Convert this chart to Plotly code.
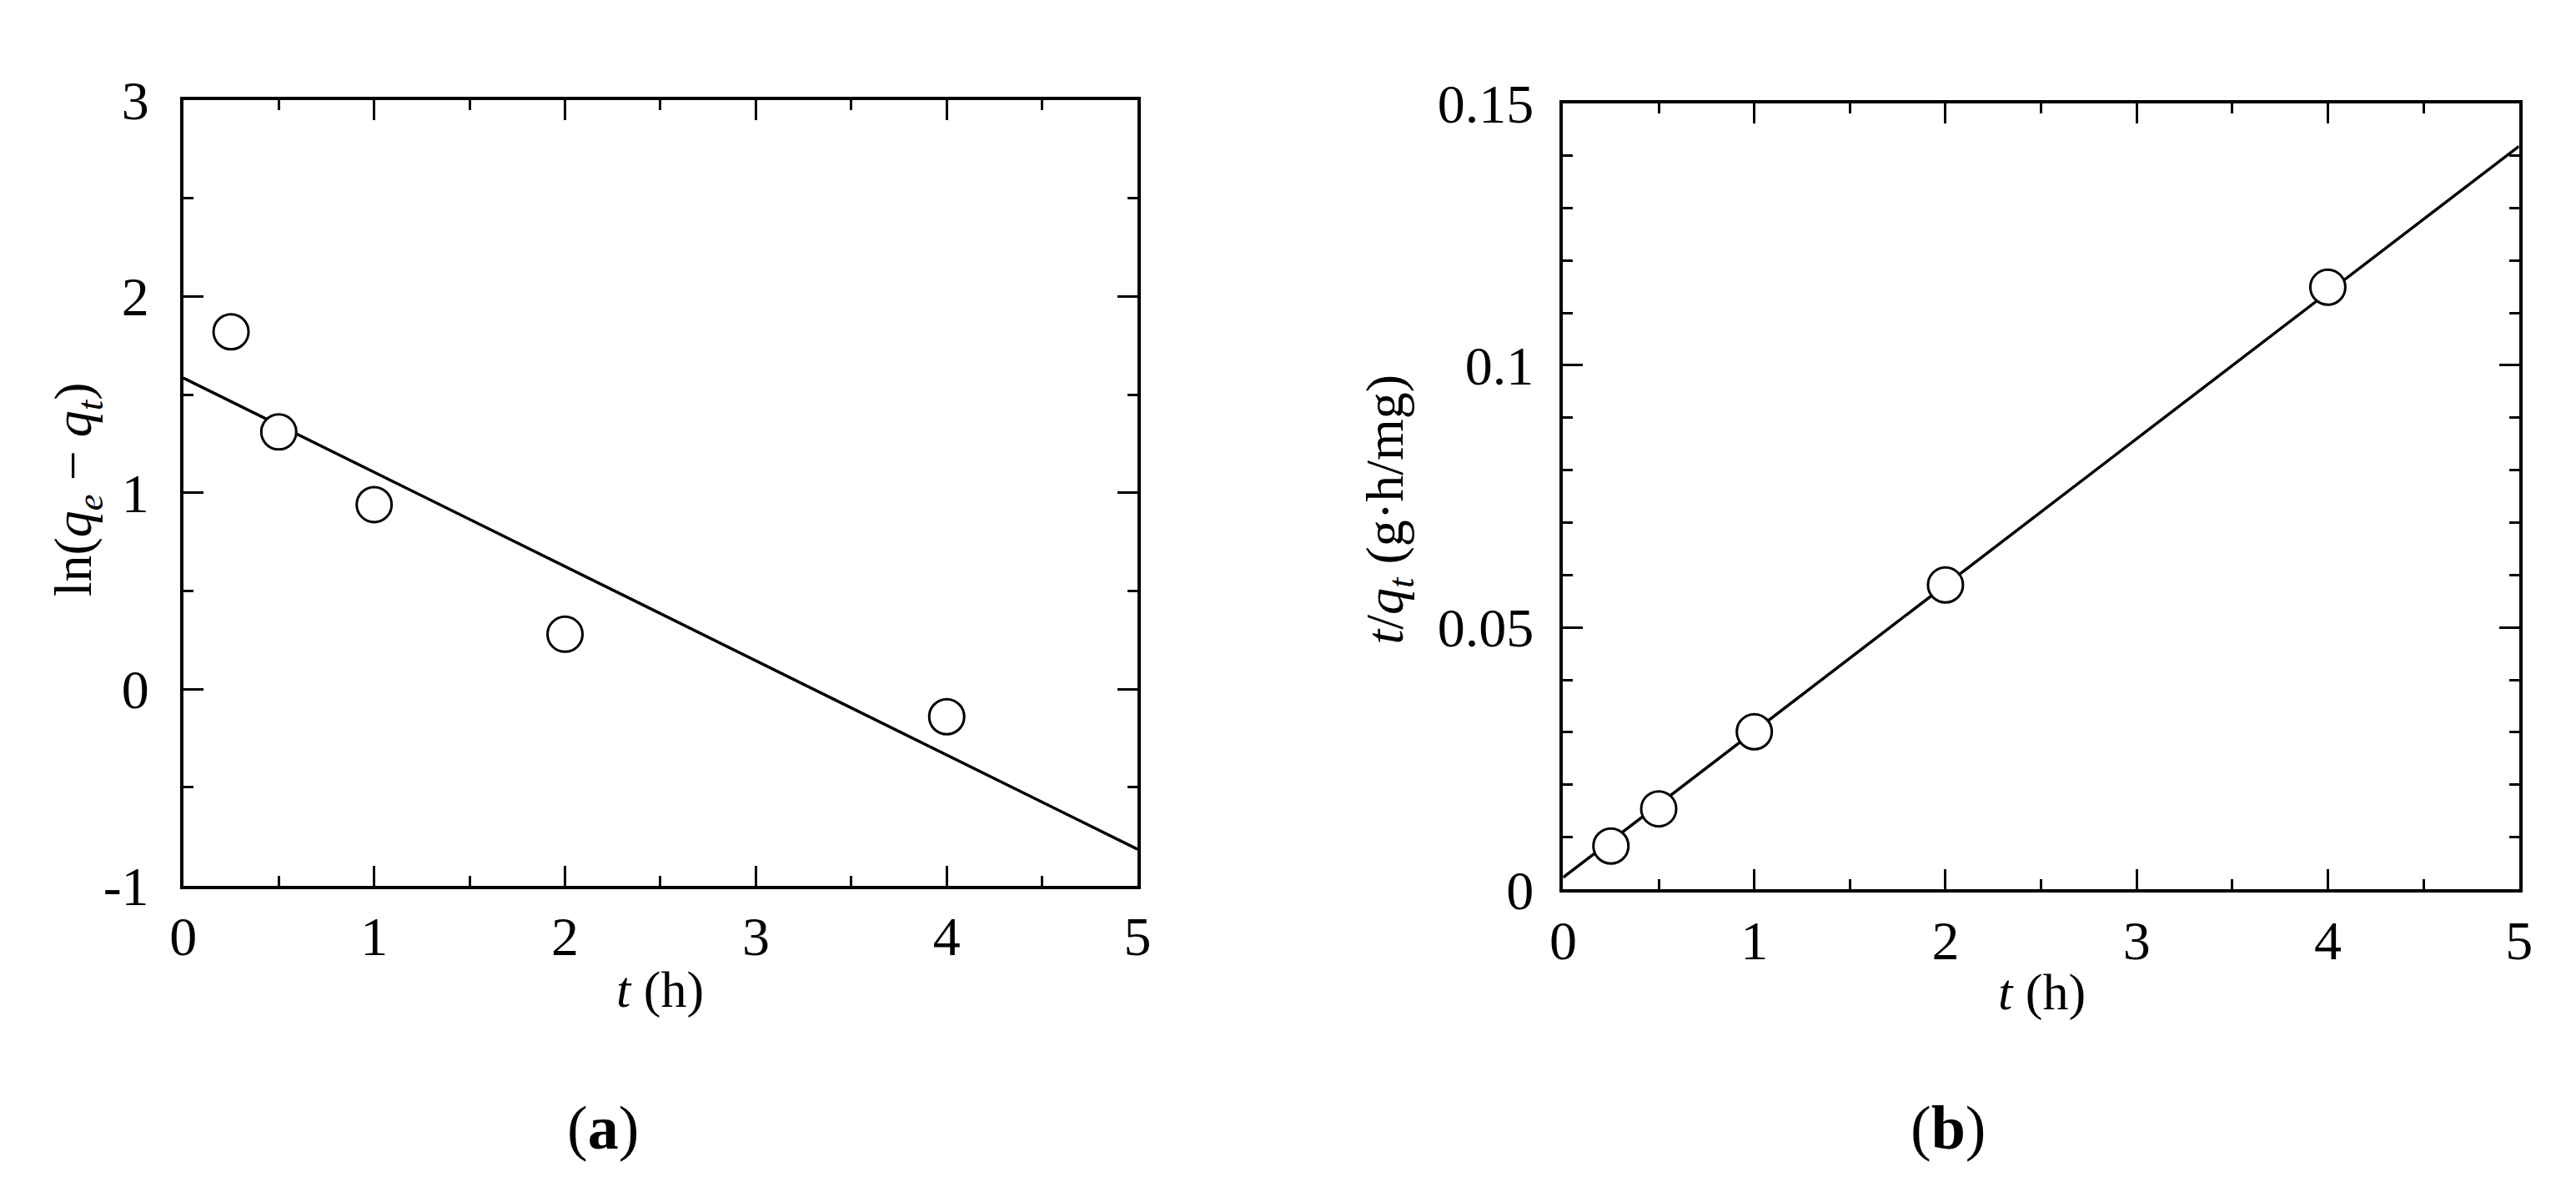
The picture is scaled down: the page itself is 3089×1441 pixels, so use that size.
import plotly.graph_objects as go

# ---- data ----
t_points = [0.25, 0.5, 1, 2, 4]
ln_qe_qt = [1.82, 1.31, 0.94, 0.28, -0.14]
fit_a_x = [0, 5]
fit_a_y = [1.585, -0.815]

t_over_qt = [0.0083, 0.0154, 0.0301, 0.0581, 0.1149]
fit_b_x = [0, 5]
fit_b_y = [0.0023, 0.1418]

xa_ticks = [0, 1, 2, 3, 4, 5]
ya_ticks = [-1, 0, 1, 2, 3]
ya_ticktext = ["-1", "0", "1", "2", "3"]
yb_ticks = [0, 0.05, 0.1, 0.15]
yb_ticktext = ["0", "0.05", "0.1", "0.15"]

W, H = 3089, 1441
FONT = "Liberation Serif"
TICKF = dict(family=FONT, size=66, color="black")

fig = go.Figure()

marker = dict(symbol="circle", size=42, color="white", line=dict(color="black", width=3))
line = dict(color="black", width=3.5)

fig.add_trace(go.Scatter(x=fit_a_x, y=fit_a_y, mode="lines", line=line, xaxis="x", yaxis="y",
                         showlegend=False))
fig.add_trace(go.Scatter(x=t_points, y=ln_qe_qt, mode="markers", marker=marker, xaxis="x", yaxis="y",
                         showlegend=False, cliponaxis=False))
fig.add_trace(go.Scatter(x=fit_b_x, y=fit_b_y, mode="lines", line=line, xaxis="x2", yaxis="y2",
                         showlegend=False))
fig.add_trace(go.Scatter(x=t_points, y=t_over_qt, mode="markers", marker=marker, xaxis="x2", yaxis="y2",
                         showlegend=False, cliponaxis=False))

def ax(**kw):
    base = dict(showline=True, linecolor="black", linewidth=4, mirror="ticks",
                ticks="inside", ticklen=24, tickwidth=3, tickcolor="black",
                showgrid=False, zeroline=False, tickfont=TICKF, fixedrange=True)
    base.update(kw)
    return base

def minor(d):
    return dict(ticks="inside", ticklen=12, tickwidth=3, tickcolor="black", dtick=d)

xl0, xl1 = 197 / W, 1354 / W
xr0, xr1 = 1870 / W, 3029 / W
ya0, ya1 = 1 - 1072 / H, 1 - 80 / H
yb0, yb1 = 1 - 1077 / H, 1 - 84 / H

fig.update_layout(
    width=W, height=H, margin=dict(l=0, r=0, t=0, b=0),
    paper_bgcolor="white", plot_bgcolor="white",
    xaxis=ax(domain=[xl0, xl1], range=[0, 5], tickvals=xa_ticks, anchor="y",
             minor=minor(0.5), ticklabelstandoff=0),
    yaxis=ax(domain=[ya0, ya1], range=[-1, 3], tickvals=ya_ticks, ticktext=ya_ticktext, anchor="x",
             minor=minor(0.5), ticklabelstandoff=24),
    xaxis2=ax(domain=[xr0, xr1], range=[0, 5], tickvals=xa_ticks, anchor="y2",
              minor=minor(0.5), ticklabelstandoff=0),
    yaxis2=ax(domain=[yb0, yb1], range=[0, 0.15], tickvals=yb_ticks, ticktext=yb_ticktext, anchor="x2",
              minor=minor(0.01), ticklabelstandoff=18),
)

TF = dict(family=FONT, size=62, color="black")
TFY = dict(family=FONT, size=64, color="black")
ann = [
    dict(text="<i>t</i> (h)", x=775 / W, y=1 - 1203 / H, font=TF),
    dict(text="<i>t</i> (h)", x=2450 / W, y=1 - 1207 / H, font=TF),
    dict(text="ln(<i>q</i><sub><i>e</i></sub> − <i>q</i><sub><i>t</i></sub>)", x=68 / W, y=1 - 572 / H,
         textangle=-90, font=TFY),
    dict(text="<i>t</i>/<i>q</i><sub><i>t</i></sub> (g·h/mg)", x=1658 / W, y=1 - 597 / H,
         textangle=-90, font=TFY),
]
for a in ann:
    fig.add_annotation(xref="paper", yref="paper", showarrow=False,
                       xanchor="center", yanchor="middle", **a)

PF = dict(family=FONT, size=74, color="black")
fig.add_annotation(text="(<b>a</b>)", x=706 / W, y=1 - 1378 / H, xref="paper", yref="paper",
                   showarrow=False, font=PF, xanchor="center", yanchor="middle")
fig.add_annotation(text="(<b>b</b>)", x=2337 / W, y=1 - 1378 / H, xref="paper", yref="paper",
                   showarrow=False, font=PF, xanchor="center", yanchor="middle")

fig.write_html("out.html")
